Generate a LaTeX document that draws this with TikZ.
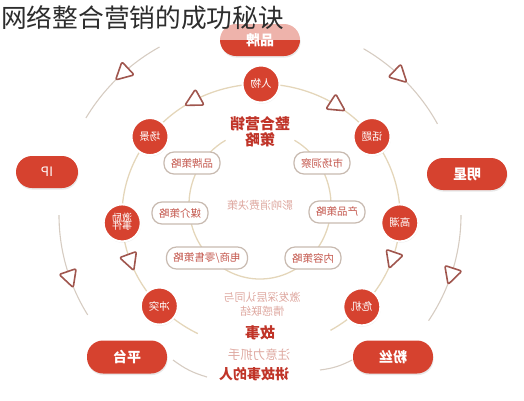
\documentclass[tikz,border=0pt]{standalone}
\usepackage{fontspec}
\setmainfont{Noto Sans CJK SC}
\usepackage{graphicx}
\usetikzlibrary{calc,shadows}
\newcommand\mir[1]{\scalebox{-1}[1]{#1}}
\newcommand\twol[2]{\mir{\begin{tabular}{@{}c@{}}#1\\[-4pt]#2\end{tabular}}}
\definecolor{myred}{RGB}{214,66,47}
\definecolor{ctext}{RGB}{192,52,40}
\definecolor{boxline}{RGB}{200,186,176}
\definecolor{boxtext}{RGB}{196,88,78}
\definecolor{pinktext}{RGB}{222,168,160}
\definecolor{outerline}{RGB}{214,204,194}
\definecolor{innerline}{RGB}{228,214,186}
\definecolor{tricol}{RGB}{160,86,78}
\definecolor{titlecol}{RGB}{45,45,45}
\newcommand\arrowtri[2]{\coordinate (tp) at #1;
  \draw[tri] ($(tp)+({#2}:10)$) -- ($(tp)+({#2+128}:11.4)$) -- ($(tp)+({#2-128}:11.4)$) -- cycle;}
\tikzset{
  pill/.style={fill=myred, rounded corners=16, minimum height=32, inner sep=0, text=white,
    font=\bfseries\fontsize{14}{16}\selectfont,
    drop shadow={opacity=0.18, shadow xshift=0.6pt, shadow yshift=-1.6pt}},
  dot/.style={circle, fill=myred, draw=white, line width=2, minimum size=37, inner sep=0, text=white,
    font=\fontsize{10.5}{12}\selectfont,
    drop shadow={opacity=0.18, shadow xshift=0.5pt, shadow yshift=-1.2pt}},
  sbox/.style={draw=boxline, fill=white, line width=1.2, rounded corners=10, minimum height=22,
    inner xsep=7, inner ysep=0, text=boxtext, font=\fontsize{10.5}{12}\selectfont},
  outerarc/.style={draw=outerline, line width=1.1},
  innerarc/.style={draw=innerline, line width=1.3},
  tri/.style={draw=tricol, fill=white, line width=1.6, line join=round, rounded corners=2},
  bigred/.style={text=ctext, font=\bfseries\fontsize{15}{17}\selectfont, inner sep=0},
  softtxt/.style={text=pinktext, font=\fontsize{11}{13}\selectfont, inner sep=0},
}
\begin{document}
\begin{tikzpicture}[x=1pt,y=-1pt]
\useasboundingbox (0,0) rectangle (524,400);
\coordinate (OC) at (260,215);
\coordinate (IC) at (261,216);
\coordinate (NC) at (260,205);

% outer circle arcs
\draw[outerarc] ($(OC)+(-120:201 and 194)$) arc[start angle=-120,end angle=-150,x radius=201,y radius=194];
\draw[outerarc] ($(OC)+(-59:201 and 194)$) arc[start angle=-59,end angle=-28,x radius=201,y radius=194];
\draw[outerarc] ($(OC)+(180:201 and 194)$) arc[start angle=180,end angle=149,x radius=201,y radius=194];
\draw[outerarc] ($(OC)+(0:201 and 194)$) arc[start angle=0,end angle=33,x radius=201,y radius=194];
\coordinate (bl1) at (173,360); \coordinate (bl2) at (207,377);
\coordinate (br1) at (320,370); \coordinate (br2) at (352,360);
\draw[outerarc] (bl1) to[bend right=10] (bl2);
\draw[outerarc] (br1) to[bend right=10] (br2);

% inner ellipse
\draw[innerarc] ($(IC)+(117:139 and 132)$) arc[start angle=117,end angle=420,x radius=139,y radius=132];
% innermost ellipse
\draw[innerarc] ($(NC)+(-61:71 and 74)$) arc[start angle=-61,end angle=241,x radius=71,y radius=74];

% triangles
\arrowtri{($(OC)+(-133:201 and 194)$)}{137}
\arrowtri{($(OC)+(-46:201 and 194)$)}{44}
\arrowtri{($(OC)+(161:201 and 194)$)}{71}
\arrowtri{($(OC)+(18:201 and 194)$)}{108}
\arrowtri{($(IC)+(-119:139 and 132)$)}{151}
\arrowtri{($(IC)+(-57:139 and 132)$)}{33}
\arrowtri{($(IC)+(160:139 and 132)$)}{70}
\arrowtri{($(IC)+(19:139 and 132)$)}{109}

% outer pills
\node[pill, minimum width=80] (pinpai) at (260,40) {\mir{品牌}};
\node[pill, minimum width=62, font=\fontsize{13}{15}\selectfont] (ip) at (47,172) {\mir{IP}};
\node[pill, minimum width=80] (mingxing) at (467,174) {\mir{明星}};
\node[pill, minimum width=80, minimum height=33] (pingtai) at (127,357) {\mir{平台}};
\node[pill, minimum width=80, minimum height=33] (fensi) at (393,357) {\mir{粉丝}};

% inner dots
\node[dot] (renwu) at ($(IC)+(-90:139 and 132)$) {\mir{人物}};
\node[dot] (changjing) at ($(IC)+(-143:139 and 132)$) {\mir{场景}};
\node[dot] (huati) at ($(IC)+(-37:139 and 132)$) {\mir{话题}};
\node[dot, font=\fontsize{10}{11}\selectfont] (jili) at ($(IC)+(177:139 and 132)$) {\twol{激励}{事件}};
\node[dot] (gaochao) at ($(IC)+(3:139 and 132)$) {\mir{高潮}};
\node[dot] (chongtu) at ($(IC)+(137:139 and 132)$) {\mir{冲突}};
\node[dot] (weiji) at ($(IC)+(43.5:139 and 132)$) {\mir{危机}};

% strategy boxes
\node[sbox] (ppcl) at (192,163) {\mir{品牌策略}};
\node[sbox] (scdc) at (322,163) {\mir{市场洞察}};
\node[sbox] (mjcl) at (180,213) {\mir{媒介策略}};
\node[sbox] (cpcl) at (337,212) {\mir{产品策略}};
\node[sbox] (dscl) at (207,258) {\mir{电商/零售策略}};
\node[sbox] (nrcl) at (313,258) {\mir{内容策略}};

% centre texts
\node[bigred] (zh1) at (260,124) {\mir{整合营销}};
\node[bigred] (zh2) at (260,140) {\mir{策略}};
\node[softtxt] (yx) at (260,205) {\mir{影响消费决策}};
\node[softtxt] (jf1) at (262,297) {\mir{激发深层认同与}};
\node[softtxt] (jf2) at (262,311) {\mir{情感联结}};
\node[bigred] (gs) at (260,333) {\mir{故事}};
\node[softtxt, font=\fontsize{12.5}{14}\selectfont] (zy) at (259,355) {\mir{注意力抓手}};
\node[bigred, font=\bfseries\fontsize{14}{16}\selectfont] (jgs) at (254,374) {\mir{讲故事的人}};

% title
\fill[white, opacity=0.6] (0,0) rectangle (306,40);
\node[anchor=west, inner sep=0, text=titlecol, font=\fontsize{25.7}{28}\selectfont] (title) at (1,18) {网络整合营销的成功秘诀};
\end{tikzpicture}
\end{document}
